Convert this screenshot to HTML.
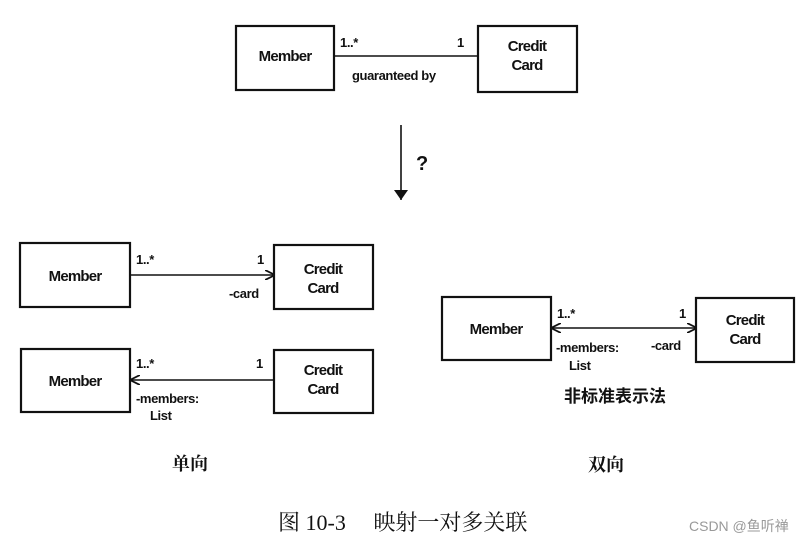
<!DOCTYPE html>
<html><head><meta charset="utf-8"><style>
html,body{margin:0;padding:0;background:#fff;width:803px;height:542px;overflow:hidden}
svg text{font-family:"Liberation Sans","Noto Sans CJK SC",sans-serif;fill:#111}
.b{font-weight:bold;font-size:15px;letter-spacing:-0.8px}
.s{font-size:13px;letter-spacing:-0.4px;font-weight:bold}
</style></head><body>
<svg width="803" height="542" viewBox="0 0 803 542" xmlns="http://www.w3.org/2000/svg">
<defs>
<marker id="a" markerWidth="10" markerHeight="10" refX="9" refY="5" orient="auto-start-reverse" markerUnits="userSpaceOnUse">
<path d="M0,0 L10,5 L0,10" fill="none" stroke="#111" stroke-width="1.8"/></marker>
<marker id="f" markerWidth="10" markerHeight="14" refX="10" refY="7" orient="auto" markerUnits="userSpaceOnUse">
<path d="M0,0 L10,7 L0,14 Z" fill="#111"/></marker>
</defs>
<g fill="none" stroke="#111" stroke-width="2.2">
<rect x="236" y="26" width="98" height="64"/>
<rect x="478" y="26" width="99" height="66"/>
<rect x="20" y="243" width="110" height="64"/>
<rect x="274" y="245" width="99" height="64"/>
<rect x="21" y="349" width="109" height="63"/>
<rect x="274" y="350" width="99" height="63"/>
<rect x="442" y="297" width="109" height="63"/>
<rect x="696" y="298" width="98" height="64"/>
</g>
<g stroke="#111" stroke-width="1.6">
<line x1="334" y1="56" x2="478" y2="56"/>
<line x1="401" y1="125" x2="401" y2="200" marker-end="url(#f)"/>
<line x1="130" y1="275" x2="274" y2="275" marker-end="url(#a)"/>
<line x1="274" y1="380" x2="131" y2="380" marker-end="url(#a)"/>
<line x1="552" y1="328" x2="696" y2="328" marker-start="url(#a)" marker-end="url(#a)"/>
</g>
<text class="b" x="285" y="61" text-anchor="middle">Member</text>
<text class="b" x="527" y="51" text-anchor="middle">Credit</text>
<text class="b" x="527" y="70" text-anchor="middle">Card</text>
<text class="s" x="340" y="47">1..*</text>
<text class="s" x="457" y="47">1</text>
<text class="s" x="352" y="80">guaranteed by</text>
<text x="416" y="170" style="font-weight:bold;font-size:20px">?</text>

<text class="b" x="75" y="281" text-anchor="middle">Member</text>
<text class="b" x="323" y="274" text-anchor="middle">Credit</text>
<text class="b" x="323" y="293" text-anchor="middle">Card</text>
<text class="s" x="136" y="264">1..*</text>
<text class="s" x="257" y="264">1</text>
<text class="s" x="229" y="298">-card</text>

<text class="b" x="75" y="386" text-anchor="middle">Member</text>
<text class="b" x="323" y="375" text-anchor="middle">Credit</text>
<text class="b" x="323" y="394" text-anchor="middle">Card</text>
<text class="s" x="136" y="368">1..*</text>
<text class="s" x="256" y="368">1</text>
<text class="s" x="136" y="403">-members:</text>
<text class="s" x="150" y="420">List</text>

<text class="b" x="496" y="334" text-anchor="middle">Member</text>
<text class="b" x="745" y="325" text-anchor="middle">Credit</text>
<text class="b" x="745" y="344" text-anchor="middle">Card</text>
<text class="s" x="557" y="318">1..*</text>
<text class="s" x="679" y="318">1</text>
<text class="s" x="556" y="352">-members:</text>
<text class="s" x="569" y="370">List</text>
<text class="s" x="651" y="350">-card</text>
<text x="564" y="402" style="font-size:17px;font-weight:bold">非标准表示法</text>

<text x="172" y="470" style="font-size:18px;font-weight:bold;font-family:'Noto Serif CJK SC',serif">单向</text>
<text x="588" y="471" style="font-size:18px;font-weight:bold;font-family:'Noto Serif CJK SC',serif">双向</text>
<text x="278" y="530" style="font-size:22px;font-family:'Liberation Serif','Noto Serif CJK SC',serif">图 10-3　 映射一对多关联</text>
<text x="689" y="531" style="font-size:14px;fill:#999">CSDN @鱼听禅</text>
</svg>
</body></html>
